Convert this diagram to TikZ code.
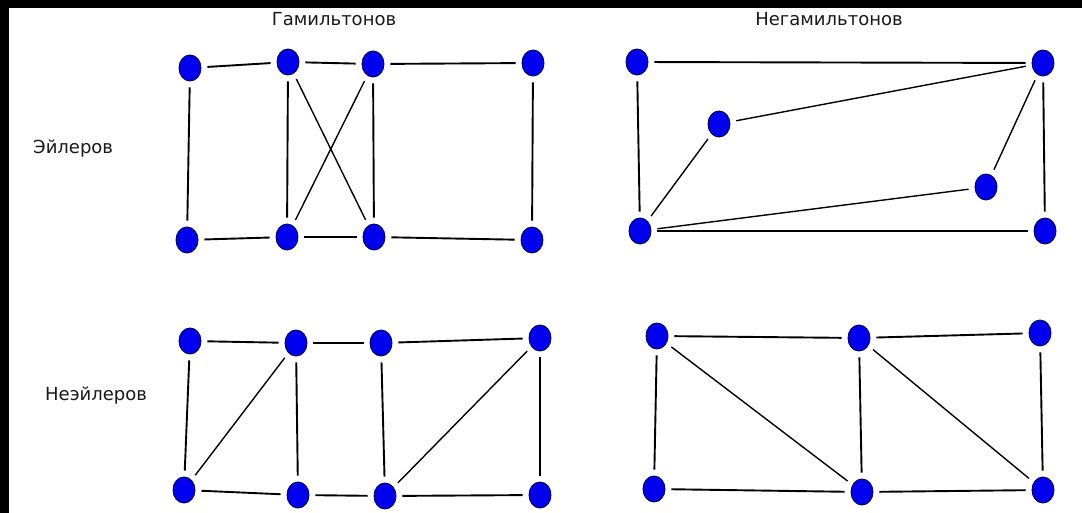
\documentclass[tikz,border=0pt]{standalone}
\usepackage{fontspec}
\setmainfont{DejaVu Sans}
\usepackage{xcolor}
\usetikzlibrary{shapes.geometric}
\definecolor{vtxblue}{HTML}{0000EE}
\definecolor{vtxrim}{HTML}{000066}
\definecolor{inkgray}{HTML}{1A1A1A}

\begin{document}
\begin{tikzpicture}[x=1pt, y=-1pt,
  vertex/.style={ellipse, fill=vtxblue, draw=vtxrim, line width=0.9pt,
    minimum width=22pt, minimum height=26pt, inner sep=0pt},
  edge/.style={line width=1.9pt, shorten <=6pt, shorten >=6pt},
  diag/.style={edge, line width=1.4pt},
  caption/.style={font=\fontsize{18}{20}\selectfont, text=inkgray, inner sep=0pt}]

  % Frame
  \useasboundingbox (0,0) rectangle (1082,513);
  \fill[black] (0,0) rectangle (1082,513);
  \fill[white] (9,8) rectangle (1082,513);

  % Captions
  \node[caption, anchor=base] (hamtitle) at (334,26) {Гамильтонов};
  \node[caption, anchor=base] (nonhamtitle) at (829,26) {Негамильтонов};
  \node[caption, anchor=base west] (eultitle) at (33,154) {Эйлеров};
  \node[caption, anchor=base west] (noneultitle) at (45,400) {Неэйлеров};

  % Eulerian, Hamiltonian
  \node[vertex] (ea1) at (190,68) {};
  \node[vertex] (ea2) at (288,62) {};
  \node[vertex] (ea3) at (373,64) {};
  \node[vertex] (ea4) at (533,63) {};
  \node[vertex] (ea5) at (187,240) {};
  \node[vertex] (ea6) at (287,237) {};
  \node[vertex] (ea7) at (374,237) {};
  \node[vertex] (ea8) at (532,240) {};
  \foreach \a/\b in {ea1/ea2, ea2/ea3, ea3/ea4, ea5/ea6, ea6/ea7, ea7/ea8,
                     ea1/ea5, ea2/ea6, ea3/ea7, ea4/ea8}
    \draw[edge] (\a) -- (\b);
  \foreach \a/\b in {ea2/ea7, ea3/ea6}
    \draw[diag] (\a) -- (\b);

  % Eulerian, non-Hamiltonian
  \node[vertex] (eb1) at (637,62) {};
  \node[vertex] (eb2) at (1043,63) {};
  \node[vertex] (eb3) at (719,124) {};
  \node[vertex] (eb4) at (986,187) {};
  \node[vertex] (eb5) at (640,231) {};
  \node[vertex] (eb6) at (1045,231) {};
  \foreach \a/\b in {eb1/eb2, eb1/eb5, eb2/eb6, eb5/eb6}
    \draw[edge] (\a) -- (\b);
  \foreach \a/\b in {eb3/eb2, eb3/eb5, eb4/eb2, eb4/eb5}
    \draw[diag] (\a) -- (\b);

  % non-Eulerian, Hamiltonian
  \node[vertex] (na1) at (190,341) {};
  \node[vertex] (na2) at (296,343) {};
  \node[vertex] (na3) at (381,343) {};
  \node[vertex] (na4) at (540,338) {};
  \node[vertex] (na5) at (184,490) {};
  \node[vertex] (na6) at (298,495) {};
  \node[vertex] (na7) at (385,496) {};
  \node[vertex] (na8) at (540,495) {};
  \foreach \a/\b in {na1/na2, na2/na3, na3/na4, na5/na6, na6/na7, na7/na8,
                     na1/na5, na2/na6, na3/na7, na4/na8}
    \draw[edge] (\a) -- (\b);
  \foreach \a/\b in {na5/na2, na7/na4}
    \draw[diag] (\a) -- (\b);

  % non-Eulerian, non-Hamiltonian
  \node[vertex] (nb1) at (657,336) {};
  \node[vertex] (nb2) at (859,338) {};
  \node[vertex] (nb3) at (1040,333) {};
  \node[vertex] (nb4) at (654,489) {};
  \node[vertex] (nb5) at (862,492) {};
  \node[vertex] (nb6) at (1043,490) {};
  \foreach \a/\b in {nb1/nb2, nb2/nb3, nb4/nb5, nb5/nb6, nb1/nb4, nb2/nb5, nb3/nb6}
    \draw[edge] (\a) -- (\b);
  \foreach \a/\b in {nb1/nb5, nb2/nb6}
    \draw[diag] (\a) -- (\b);
\end{tikzpicture}
\end{document}
